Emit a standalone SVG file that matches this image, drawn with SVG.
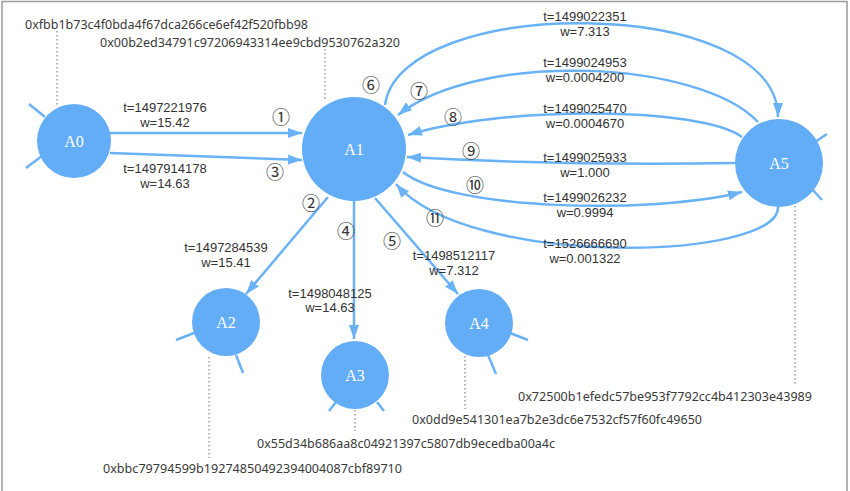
<svg xmlns="http://www.w3.org/2000/svg" width="850" height="491" viewBox="0 0 850 491">
<style>
.node{fill:#63acf6}
.nl{font-family:"Liberation Serif",serif;font-size:16px;fill:#ffffff;text-anchor:middle}
.edge{fill:none;stroke:#6ab2f6;stroke-width:2.5}
.stub{stroke:#6ab2f6;stroke-width:2.5}
.dot{stroke:#9a9a9a;stroke-width:1.5;stroke-dasharray:1.5 2.5}
.hex{font-family:"Noto Sans","Liberation Sans",sans-serif;font-size:12.5px;fill:#3a3a3a}
.el{font-family:"Liberation Sans",Arial,sans-serif;font-size:13px;fill:#333333;text-anchor:middle}
.cn{font-family:"Noto Sans CJK SC",sans-serif;font-size:18px;fill:#333333;text-anchor:middle}
</style>
<defs>
<marker id="arr" markerUnits="userSpaceOnUse" markerWidth="14" markerHeight="10" refX="14" refY="5" orient="auto">
<path d="M0,0 L14,5 L0,10 z" fill="#6ab2f6"/>
</marker>
</defs>
<rect x="0" y="0" width="850" height="491" fill="#ffffff"/>
<path d="M2,491 V1.5 H847 V491" fill="none" stroke="#9a9a9a" stroke-width="1.5"/>

<g id="connectors">
<path class="edge" d="M110,133 L302,133" marker-end="url(#arr)"/>
<path class="edge" d="M110,153 L302,160" marker-end="url(#arr)"/>
<path class="edge" d="M328,197 L246,294" marker-end="url(#arr)"/>
<path class="edge" d="M354,201 L354,339" marker-end="url(#arr)"/>
<path class="edge" d="M375,198 L458,294" marker-end="url(#arr)"/>
<path class="edge" d="M385,105 C400,-6 778,-6 778,117" marker-end="url(#arr)"/>
<path class="edge" d="M758,122 C700,60 480,50 398,115" marker-end="url(#arr)"/>
<path class="edge" d="M742,137 C700,106 500,106 408,135" marker-end="url(#arr)"/>
<path class="edge" d="M735,163 Q570,166 407,157" marker-end="url(#arr)"/>
<path class="edge" d="M403,172 C450,210 650,215 742,192" marker-end="url(#arr)"/>
<path class="edge" d="M778,207 C780,260 470,270 396,184" marker-end="url(#arr)"/>

<text class="el" x="165" y="111.5">t=1497221976</text>
<text class="el" x="165" y="126.5">w=15.42</text>
<text class="el" x="165" y="172.5">t=1497914178</text>
<text class="el" x="165" y="187.5">w=14.63</text>
<text class="el" x="226" y="251.5">t=1497284539</text>
<text class="el" x="226" y="266.5">w=15.41</text>
<text class="el" x="330" y="297.5">t=1498048125</text>
<text class="el" x="330" y="312">w=14.63</text>
<text class="el" x="454" y="259.5">t=1498512117</text>
<text class="el" x="454" y="274.5">w=7.312</text>
<text class="el" x="585" y="20.5">t=1499022351</text>
<text class="el" x="585" y="36">w=7.313</text>
<text class="el" x="585" y="66.5">t=1499024953</text>
<text class="el" x="585" y="81.5">w=0.0004200</text>
<text class="el" x="585" y="112.5">t=1499025470</text>
<text class="el" x="585" y="127.5">w=0.0004670</text>
<text class="el" x="585" y="161.5">t=1499025933</text>
<text class="el" x="585" y="176.5">w=1.000</text>
<text class="el" x="585" y="201.5">t=1499026232</text>
<text class="el" x="585" y="217">w=0.9994</text>
<text class="el" x="585" y="247.5">t=1526666690</text>
<text class="el" x="585" y="262.5">w=0.001322</text>

<text class="cn" x="281" y="123.5">①</text>
<text class="cn" x="311" y="209.5">②</text>
<text class="cn" x="275" y="178.5">③</text>
<text class="cn" x="346" y="237.5">④</text>
<text class="cn" x="392" y="247.5">⑤</text>
<text class="cn" x="371" y="91.5">⑥</text>
<text class="cn" x="419" y="97.5">⑦</text>
<text class="cn" x="453" y="123.5">⑧</text>
<text class="cn" x="471" y="157.5">⑨</text>
<text class="cn" x="475" y="191.5">⑩</text>
<text class="cn" x="435" y="224.5">⑪</text>
</g>

<g id="A0">
<line class="dot" x1="57" y1="31" x2="57" y2="106"/>
<text class="hex" x="25" y="28.5" textLength="283" lengthAdjust="spacingAndGlyphs">0xfbb1b73c4f0bda4f67dca266ce6ef42f520fbb98</text>
<line class="stub" x1="29" y1="104" x2="45" y2="117"/>
<line class="stub" x1="26" y1="168" x2="42" y2="156"/>
<circle class="node" cx="74" cy="141" r="37"/>
<text class="nl" x="74" y="146.5">A0</text>
</g>

<g id="A1">
<line class="dot" x1="325" y1="49" x2="325" y2="101"/>
<text class="hex" x="100" y="47" textLength="300" lengthAdjust="spacingAndGlyphs">0x00b2ed34791c97206943314ee9cbd9530762a320</text>
<circle class="node" cx="354" cy="149" r="52"/>
<text class="nl" x="354" y="155">A1</text>
</g>

<g id="A2">
<line class="dot" x1="209" y1="357" x2="209" y2="458"/>
<text class="hex" x="103" y="472.5" textLength="299" lengthAdjust="spacingAndGlyphs">0xbbc79794599b19274850492394004087cbf89710</text>
<line class="stub" x1="176" y1="340" x2="194" y2="333"/>
<line class="stub" x1="236" y1="355" x2="243" y2="373"/>
<circle class="node" cx="226" cy="322" r="34"/>
<text class="nl" x="226" y="327.5">A2</text>
</g>

<g id="A3">
<line class="dot" x1="355" y1="410" x2="355" y2="431"/>
<text class="hex" x="257" y="447.5" textLength="298" lengthAdjust="spacingAndGlyphs">0x55d34b686aa8c04921397c5807db9ecedba00a4c</text>
<line class="stub" x1="329" y1="411" x2="336" y2="402"/>
<line class="stub" x1="377" y1="402" x2="384" y2="411"/>
<circle class="node" cx="355" cy="375" r="34"/>
<text class="nl" x="355" y="380.5">A3</text>
</g>

<g id="A4">
<line class="dot" x1="465" y1="356" x2="465" y2="409"/>
<text class="hex" x="412" y="423.5" textLength="290" lengthAdjust="spacingAndGlyphs">0x0dd9e541301ea7b2e3dc6e7532cf57f60fc49650</text>
<line class="stub" x1="510" y1="333" x2="528" y2="340"/>
<line class="stub" x1="488" y1="355" x2="496" y2="374"/>
<circle class="node" cx="479" cy="323" r="34"/>
<text class="nl" x="479" y="328.5">A4</text>
</g>

<g id="A5">
<line class="dot" x1="795" y1="206" x2="795" y2="384"/>
<text class="hex" x="518" y="401" textLength="294" lengthAdjust="spacingAndGlyphs">0x72500b1efedc57be953f7792cc4b412303e43989</text>
<line class="stub" x1="815" y1="142" x2="827" y2="134"/>
<line class="stub" x1="812" y1="189" x2="822" y2="200"/>
<circle class="node" cx="779" cy="163" r="44"/>
<text class="nl" x="779" y="168.5">A5</text>
</g>
</svg>
